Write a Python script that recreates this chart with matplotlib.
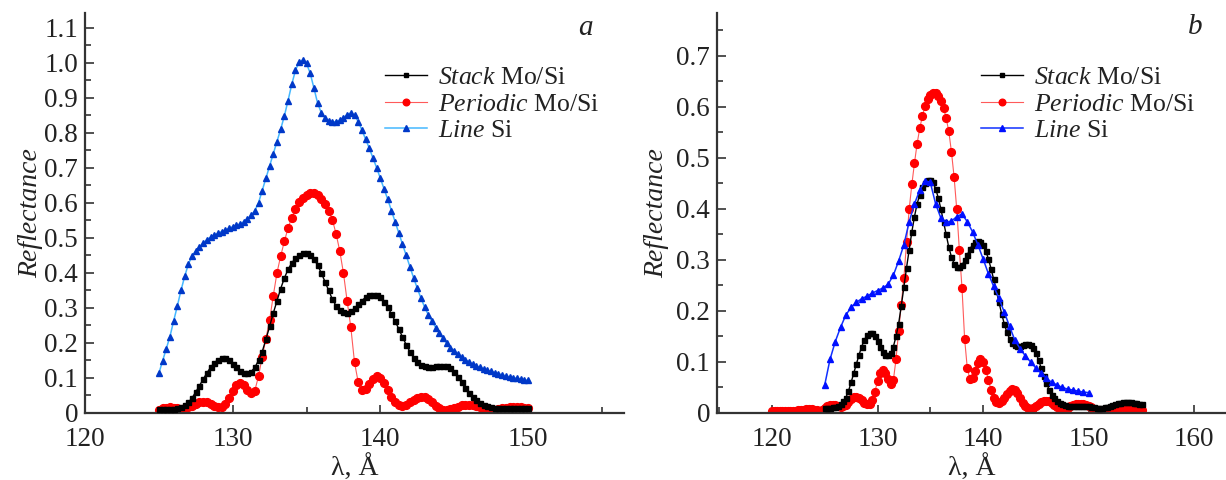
import numpy as np
import matplotlib
matplotlib.use("Agg")
import matplotlib.pyplot as plt
from matplotlib.ticker import MultipleLocator, FuncFormatter

plt.rcParams.update({
    "font.family": "Liberation Serif",
    "mathtext.fontset": "custom",
    "mathtext.rm": "Liberation Serif",
    "mathtext.it": "Liberation Serif:italic",
})

# Wavelength grids, Angstrom
wl_stack = np.arange(125.0, 155.001, 0.25)
wl_periodic = np.arange(120.0, 155.001, 0.25)
wl_line_a = np.arange(125.0, 150.001, 0.25)
wl_line_b = np.arange(125.0, 150.001, 0.5)

# Reflectance of the stack Mo/Si mirror
stack_R = [
    0.010, 0.010, 0.010, 0.011, 0.012, 0.014, 0.018, 0.023, 0.030, 0.043,
    0.060, 0.078, 0.096, 0.114, 0.130, 0.143, 0.152, 0.157, 0.156, 0.150,
    0.141, 0.130, 0.120, 0.114, 0.113, 0.118, 0.130, 0.150, 0.175, 0.210,
    0.247, 0.285, 0.320, 0.355, 0.385, 0.410, 0.428, 0.442, 0.451, 0.456,
    0.457, 0.452, 0.440, 0.422, 0.400, 0.375, 0.350, 0.325, 0.306, 0.293,
    0.287, 0.286, 0.290, 0.299, 0.310, 0.321, 0.330, 0.336, 0.338, 0.336,
    0.330, 0.318, 0.302, 0.283, 0.262, 0.240, 0.217, 0.195, 0.175, 0.158,
    0.146, 0.138, 0.134, 0.132, 0.132, 0.134, 0.135, 0.135, 0.133, 0.128,
    0.118, 0.104, 0.088, 0.072, 0.058, 0.046, 0.036, 0.029, 0.024, 0.020,
    0.017, 0.015, 0.014, 0.013, 0.013, 0.013, 0.013, 0.013, 0.013, 0.013,
    0.013, 0.012, 0.011, 0.010, 0.010, 0.010, 0.011, 0.012, 0.014, 0.016,
    0.018, 0.019, 0.020, 0.021, 0.021, 0.021, 0.021, 0.020, 0.019, 0.018,
    0.017,
]

# Reflectance of the periodic Mo/Si mirror
periodic_R = [
    0.003, 0.003, 0.003, 0.003, 0.003, 0.003, 0.003, 0.003, 0.004, 0.004,
    0.005, 0.005, 0.006, 0.007, 0.008, 0.007, 0.006, 0.005, 0.004, 0.006,
    0.009, 0.013, 0.015, 0.016, 0.015, 0.013, 0.012, 0.013, 0.016, 0.021,
    0.027, 0.031, 0.032, 0.030, 0.025, 0.020, 0.017, 0.018, 0.026, 0.042,
    0.062, 0.079, 0.085, 0.079, 0.066, 0.057, 0.064, 0.105, 0.160, 0.212,
    0.265, 0.335, 0.400, 0.448, 0.490, 0.528, 0.558, 0.582, 0.602, 0.615,
    0.623, 0.627, 0.627, 0.622, 0.612, 0.598, 0.578, 0.552, 0.512, 0.463,
    0.400, 0.320, 0.245, 0.145, 0.088, 0.066, 0.068, 0.082, 0.098, 0.105,
    0.100, 0.085, 0.065, 0.045, 0.030, 0.022, 0.020, 0.023, 0.030, 0.038,
    0.044, 0.047, 0.045, 0.039, 0.030, 0.020, 0.013, 0.009, 0.008, 0.010,
    0.014, 0.018, 0.022, 0.024, 0.024, 0.023, 0.020, 0.016, 0.012, 0.009,
    0.008, 0.008, 0.010, 0.013, 0.015, 0.017, 0.018, 0.018, 0.017, 0.015,
    0.013, 0.011, 0.008, 0.006, 0.005, 0.004, 0.004, 0.005, 0.006, 0.008,
    0.009, 0.010, 0.011, 0.011, 0.011, 0.010, 0.009, 0.008, 0.007, 0.006,
    0.005,
]

# Reflectance of the Si line, panel a
line_a_R = [
    0.113, 0.148, 0.183, 0.218, 0.262, 0.305, 0.350, 0.390, 0.425, 0.448,
    0.463, 0.474, 0.485, 0.495, 0.502, 0.508, 0.513, 0.518, 0.522, 0.527,
    0.532, 0.536, 0.540, 0.546, 0.554, 0.564, 0.578, 0.600, 0.635, 0.670,
    0.705, 0.740, 0.775, 0.810, 0.848, 0.892, 0.938, 0.978, 1.002, 1.008,
    0.998, 0.970, 0.928, 0.885, 0.857, 0.842, 0.834, 0.831, 0.832, 0.836,
    0.843, 0.852, 0.857, 0.850, 0.832, 0.808, 0.782, 0.756, 0.728, 0.700,
    0.670, 0.640, 0.610, 0.578, 0.546, 0.514, 0.482, 0.450, 0.418, 0.386,
    0.356, 0.328, 0.302, 0.280, 0.262, 0.244, 0.228, 0.213, 0.199, 0.187,
    0.177, 0.168, 0.160, 0.152, 0.146, 0.140, 0.135, 0.130, 0.126, 0.122,
    0.119, 0.115, 0.112, 0.109, 0.106, 0.103, 0.101, 0.099, 0.097, 0.095,
    0.093,
]

# Reflectance of the Si line, panel b
line_b_R = [
    0.055, 0.105, 0.140, 0.168, 0.192, 0.207, 0.217, 0.224, 0.229, 0.235,
    0.240, 0.245, 0.252, 0.270, 0.298, 0.330, 0.375, 0.410, 0.437, 0.455,
    0.452, 0.410, 0.382, 0.374, 0.376, 0.385, 0.390, 0.375, 0.355, 0.330,
    0.302, 0.273, 0.248, 0.225, 0.198, 0.170, 0.143, 0.126, 0.112, 0.100,
    0.088, 0.078, 0.068, 0.060, 0.055, 0.050, 0.047, 0.045, 0.043, 0.041,
    0.040,
]

labels = [r"$\mathit{Stack}$ Mo/Si", r"$\mathit{Periodic}$ Mo/Si", r"$\mathit{Line}$ Si"]

stack_R = np.array(stack_R)
periodic_R = np.array(periodic_R)

W, H = 1226, 480
fig = plt.figure(figsize=(W / 100, H / 100), dpi=100)
ax_a = fig.add_axes([85 / W, 67 / H, 539 / W, 400 / H])
ax_b = fig.add_axes([717 / W, 67 / H, 509 / W, 400 / H])

spine_col = "#333333"
text_col = "#222222"


def fmt(v, pos):
    return "0" if abs(v) < 1e-9 else f"{v:.1f}"


def style(ax, xlim, ylim, ylabelpad):
    ax.set_xlim(*xlim)
    ax.set_ylim(*ylim)
    for s in ("top", "right"):
        ax.spines[s].set_visible(False)
    for s in ("left", "bottom"):
        ax.spines[s].set_linewidth(1.6)
        ax.spines[s].set_color(spine_col)
    ax.xaxis.set_major_locator(MultipleLocator(10))
    ax.xaxis.set_minor_locator(MultipleLocator(5))
    ax.yaxis.set_major_locator(MultipleLocator(0.1))
    ax.yaxis.set_minor_locator(MultipleLocator(0.05))
    ax.yaxis.set_major_formatter(FuncFormatter(fmt))
    ax.tick_params(which="both", direction="in", color=spine_col, width=1.2,
                   labelsize=19.5, labelcolor=text_col)
    ax.tick_params(axis="y", which="major", length=6.5, pad=5)
    ax.tick_params(axis="y", which="minor", length=4.3)
    ax.tick_params(axis="x", which="major", length=5.5, pad=10)
    ax.tick_params(axis="x", which="minor", length=4.0)
    ax.set_xlabel("λ, Å", fontsize=20, color=text_col, labelpad=2)
    ax.set_ylabel("Reflectance", fontsize=20, fontstyle="italic",
                  color=text_col, labelpad=ylabelpad)


def draw(ax, wl_s, r_s, wl_p, r_p, wl_l, r_l, line_col, line_mk):
    ax.plot(wl_s, r_s, color="black", lw=1.0, marker="s", ms=3.6,
            mec="black", mfc="black", label=labels[0], zorder=3)
    ax.plot(wl_p, r_p, color="#ff5a5a", lw=0.8, marker="o", ms=5.6,
            mec="#ff0000", mfc="#ff0000", label=labels[1], zorder=2)
    ax.plot(wl_l, r_l, color=line_col, lw=1.1, marker="^", ms=5.0,
            mec=line_mk, mfc=line_mk, label=labels[2], zorder=4)


# Panel a: range 125-150 Å
ma = wl_stack <= 150.001
pa = (wl_periodic >= 124.999) & (wl_periodic <= 150.001)
draw(ax_a, wl_stack[ma], stack_R[ma], wl_periodic[pa], periodic_R[pa],
     wl_line_a, line_a_R, "#45b8ff", "#0038c8")
style(ax_a, (120, 156.5), (0, 1.142), 1)

# Panel b: full range
draw(ax_b, wl_stack, stack_R, wl_periodic, periodic_R,
     wl_line_b, line_b_R, "#1030ff", "#0010ff")
style(ax_b, (114.8, 163.0), (0, 0.784), 5)

fig.text(585 / W, 1 - 28 / H, "a", fontsize=21, fontstyle="italic",
         ha="center", va="center", color=text_col)
fig.text(1195 / W, 1 - 27 / H, "b", fontsize=21, fontstyle="italic",
         ha="center", va="center", color=text_col)

leg_kw = dict(loc="upper left", frameon=False, fontsize=18.5, handlelength=1.65,
              handletextpad=0.4, labelspacing=0.14, borderpad=0,
              borderaxespad=0, numpoints=1, markerscale=0.85)
for ax, x0 in ((ax_a, (385 - 85) / 539), (ax_b, (981 - 717) / 509)):
    leg = ax.legend(bbox_to_anchor=(x0, (413 - 66) / 400), **leg_kw)
    for t in leg.get_texts():
        t.set_color(text_col)

fig.savefig("out.png", dpi=100)
